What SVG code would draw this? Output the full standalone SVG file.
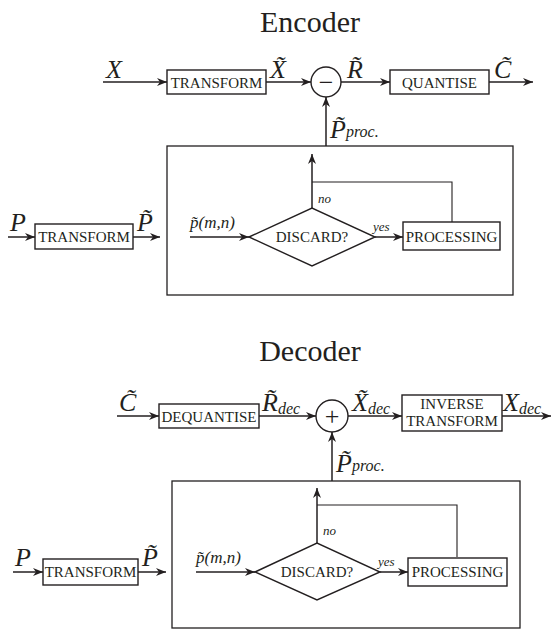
<svg xmlns="http://www.w3.org/2000/svg" width="551" height="631" viewBox="0 0 551 631">
<defs>
<marker id="ah" viewBox="0 0 10 8" refX="10" refY="4" markerWidth="10" markerHeight="8" markerUnits="userSpaceOnUse" orient="auto"><path d="M0,0 L10,4 L0,8 L3,4 z" fill="#231f20"/></marker>
<style>
text{font-family:"Liberation Serif","Times New Roman",serif;fill:#231f20}
.t{font-size:30px;text-anchor:middle}
.b{font-size:15px;text-anchor:middle}
.m{font-size:26px;font-style:italic}
.s{font-size:17px;font-style:italic}
.sm{font-size:13px;font-style:italic}
.op{font-size:26px;text-anchor:middle}
.box{fill:#fff;stroke:#231f20;stroke-width:1.4}
.frame{fill:none;stroke:#231f20;stroke-width:1.3}
.arr{fill:none;stroke:#231f20;stroke-width:1.5;marker-end:url(#ah)}
.thin{fill:none;stroke:#231f20;stroke-width:1.1}
</style>
</defs>
<rect width="551" height="631" fill="#fff"/>

<text class="t" x="310" y="32">Encoder</text>
<text class="t" x="310" y="361">Decoder</text>

<g id="connectors">
<line class="arr" x1="103" y1="82" x2="167" y2="82"/>
<line class="arr" x1="266" y1="82" x2="311" y2="82"/>
<line class="arr" x1="341" y1="82" x2="390" y2="82"/>
<line class="arr" x1="489" y1="82" x2="533" y2="82"/>
<line class="arr" x1="326" y1="146" x2="326" y2="97"/>
<line class="arr" x1="8" y1="237" x2="35" y2="237"/>
<line class="arr" x1="133" y1="237" x2="160" y2="237"/>
<line class="arr" x1="190" y1="237" x2="249" y2="237"/>
<line class="arr" x1="375" y1="237" x2="403" y2="237"/>
<line class="arr" x1="312" y1="208" x2="312" y2="154"/>
<polyline class="thin" points="312,182 452,182 452,222"/>
<line class="arr" x1="117" y1="416" x2="159" y2="416"/>
<line class="arr" x1="259" y1="416" x2="316" y2="416"/>
<line class="arr" x1="348" y1="416" x2="402" y2="416"/>
<line class="arr" x1="502" y1="416" x2="551" y2="416"/>
<line class="arr" x1="332" y1="481" x2="332" y2="432"/>
<line class="arr" x1="13" y1="572" x2="43" y2="572"/>
<line class="arr" x1="138" y1="572" x2="166" y2="572"/>
<line class="arr" x1="196" y1="572" x2="255" y2="572"/>
<line class="arr" x1="380" y1="572" x2="408" y2="572"/>
<line class="arr" x1="317" y1="543" x2="317" y2="488"/>
<polyline class="thin" points="317,505 457,505 457,557"/>
</g>

<g id="enc-transform">
<rect class="box" x="167" y="70" width="99" height="24"/>
<text class="b" x="216.5" y="87.5">TRANSFORM</text>
</g>
<g id="enc-sub">
<circle class="box" cx="326" cy="82" r="15"/>
<text class="op" x="326" y="91">−</text>
</g>
<g id="enc-quantise">
<rect class="box" x="390" y="70" width="99" height="24"/>
<text class="b" x="439.5" y="87.5">QUANTISE</text>
</g>
<g id="enc-labels">
<text class="m" x="106" y="78">X</text>
<text class="m" x="270" y="78">X&#x303;</text>
<text class="m" x="347" y="78">R&#x303;</text>
<text class="m" x="494" y="78">C&#x303;</text>
<text class="m" x="330" y="138">P&#x303;<tspan font-size="16" dy="-1">proc.</tspan></text>
<text class="m" x="10" y="231">P</text>
<text class="m" x="137" y="231">P&#x303;</text>
<text class="s" x="190" y="228">p&#x303;(m,n)</text>
<text class="sm" x="318" y="203">no</text>
<text class="sm" x="373" y="231">yes</text>
</g>
<g id="enc-transform2">
<rect class="box" x="35" y="224" width="98" height="25"/>
<text class="b" x="84" y="242">TRANSFORM</text>
</g>
<g id="enc-frame">
<rect class="frame" x="167" y="146" width="346" height="149"/>
</g>
<g id="enc-discard">
<polygon class="box" points="249,237 312,208 375,237 312,266"/>
<text class="b" x="312" y="242">DISCARD?</text>
</g>
<g id="enc-processing">
<rect class="box" x="403" y="222" width="97" height="28"/>
<text class="b" x="451.5" y="242">PROCESSING</text>
</g>

<g id="dec-dequantise">
<rect class="box" x="159" y="404" width="100" height="24"/>
<text class="b" x="209" y="421.5">DEQUANTISE</text>
</g>
<g id="dec-add">
<circle class="box" cx="332" cy="416" r="16"/>
<text class="op" x="332" y="425">+</text>
</g>
<g id="dec-inverse">
<rect class="box" x="402" y="395" width="100" height="36"/>
<text class="b" x="452" y="409">INVERSE</text>
<text class="b" x="452" y="426">TRANSFORM</text>
</g>
<g id="dec-labels">
<text class="m" x="119" y="411">C&#x303;</text>
<text class="m" x="262" y="411">R&#x303;<tspan font-size="16" dy="3">dec</tspan></text>
<text class="m" x="352" y="411">X&#x303;<tspan font-size="16" dy="3">dec</tspan></text>
<text class="m" x="503" y="411">X<tspan font-size="16" dy="3">dec</tspan></text>
<text class="m" x="336" y="472">P&#x303;<tspan font-size="16" dy="-1">proc.</tspan></text>
<text class="m" x="15" y="566">P</text>
<text class="m" x="142" y="566">P&#x303;</text>
<text class="s" x="196" y="563">p&#x303;(m,n)</text>
<text class="sm" x="323" y="535">no</text>
<text class="sm" x="378" y="566">yes</text>
</g>
<g id="dec-transform2">
<rect class="box" x="43" y="559" width="95" height="26"/>
<text class="b" x="90.5" y="577">TRANSFORM</text>
</g>
<g id="dec-frame">
<rect class="frame" x="172" y="481" width="348" height="147"/>
</g>
<g id="dec-discard">
<polygon class="box" points="255,572 317,543 380,572 317,600"/>
<text class="b" x="317" y="577">DISCARD?</text>
</g>
<g id="dec-processing">
<rect class="box" x="408" y="558" width="99" height="28"/>
<text class="b" x="457.5" y="577">PROCESSING</text>
</g>
</svg>
